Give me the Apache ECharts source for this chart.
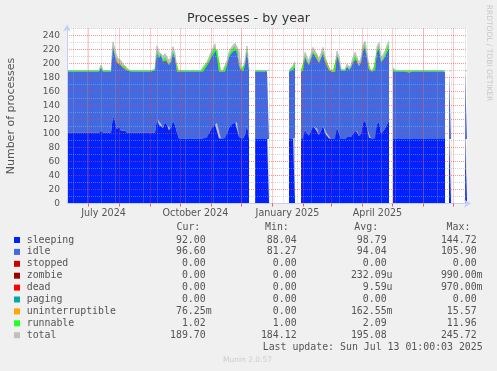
<!DOCTYPE html>
<html><head><meta charset="utf-8">
<script src="https://cdn.jsdelivr.net/npm/echarts@6/dist/echarts.min.js"></script>
<style>html,body{margin:0;padding:0;background:#f0f0f0}#c{width:497px;height:371px}</style>
</head><body><div id="c"></div>
<script>
// ---- time frame (one sample every 2 days) ----
const startDate = '2024-06-09T12:00:00Z';
const endDate = '2025-07-14T12:00:00Z';
const stepDays = 2;

// ---- series values (201 samples, null = no data) ----
const sleeping = [
101,101,101,101,101,101,101,101,101,101,
101,101,101,101,101,101,101,104,101,101,
101,101,101,125,118,106,110,104,102,104,
101,101,101,101,101,101,101,101,101,101,
101,101,101,101,101,121,112,114,108,116,
112,104,106,118,112,101,93,93,93,93,
93,93,93,93,93,93,93,93,93,96,
94,100,106,110,113,115,93,93,93,93,
100,108,113,114,116,116,95,93,93,98,
112,93,null,null,92,92,92,92,92,92,
92,92,null,null,null,null,null,null,null,null,
null,92,92,93,94,null,null,92,92,105,
100,97,104,110,107,107,98,104,111,100,
100,93,92,92,92,108,100,92,92,92,
95,93,95,100,106,104,96,100,115,119,
108,94,92,92,93,113,117,100,103,107,
113,118,null,92,92,92,92,92,92,92,
92,92,92,92,92,92,92,92,92,92,
92,92,92,92,92,92,92,92,92,92,
null,92,92,null,null,null,null,null,null,92,
92];
const idle = [
87.5,87.5,87.5,87.5,87.5,87.5,87.5,87.5,87.5,87.5,
87.5,87.5,87.5,87.5,87.5,87.5,87.5,90,87.5,87.5,
87.5,87.5,87.5,98,93,95,90,93,92,92,
89.5,87.5,87.5,87.5,87.5,87.5,87.5,87.5,87.5,87.5,
87.5,87.5,87.5,87.5,89.5,95,96,98,95,91,
93,94,96,97,95,87.5,95.5,95.5,95.5,95.5,
95.5,95.5,95.5,95.5,95.5,95.5,95.5,95.5,95.5,99,
103,102,102,103,104,105,95.5,95.5,95.5,95.5,
98,101,101,103,102,104,102,97.5,95.5,100,
105,95.5,null,null,96.5,95,96.5,96.5,96.5,96.5,
96.5,96.5,null,null,null,null,null,null,null,null,
null,96.5,96.5,98,101,null,null,96.5,98,104,
102,101,103,105,104,105,103,103,104,103,
101,97.5,96.5,95.5,95.5,103,103,97.5,96.5,97.5,
100,98,99,102,103,103,100,102,103,104,
99,97,96.5,96.5,97.5,103,104,102,102,103,
103,104,null,97,96.5,96.5,96.5,96.5,96.5,96.5,
96.5,95,96.5,96.5,96.5,96.5,96.5,96.5,96.5,96.5,
96.5,96.5,96.5,96.5,96.5,96.5,96.5,96.5,96.5,96.5,
null,96.6,96.6,null,null,null,null,null,null,96.6,
96.6];
const uninterruptible = [
0,0,0,0,0,0,0,0,0,0,
0,0,0,0,0,0,0,0,0,0,
0,0,0,0,0,0,0,0,0,0,
0,0,0,0,0,0,0,0,0,0,
0,0,0,0,0,0,0,0,0,0,
0,0,0,0,0,0,0,0,0,0,
0,0,0,0,0,0,0,0,0,0,
0,0,0,0,0,0,0,0,0,0,
0,0,0,0,0,0,0,0,0,0,
0,0,null,null,0,1.5,0,0,0,0,
0,0,null,null,null,null,null,null,null,null,
null,0,0,0,0,null,null,0,0,0,
0,0,0,0,0,0,0,0,0,0,
0,0,0,1,2,0,0,0,0,0,
0,0,0,0,0,0,0,0,0,0,
0,0,0,0,0,0,0,0,0,0,
0,0,null,0,0,0,0,0,0,0,
0,1.5,0,0,0,0,0,0,0,0,
0,0,0,0,0,0,0,0,0,0,
null,0,0,null,null,null,null,null,null,0,
0.08];
const runnable = [
1.5,1.5,1.5,1.5,1.5,1.5,1.5,1.5,1.5,1.5,
1.5,1.5,1.5,1.5,1.5,1.5,1.5,2,1.5,1.5,
1.5,1.5,1.5,2,2,2.5,2,2,1.5,1.5,
1.5,1.5,1.5,1.5,1.5,1.5,1.5,1.5,1.5,1.5,
1.5,1.5,1.5,1.5,1.5,3,2.5,2,2,2,
2,1.5,2,3,2,1.5,1.5,1.5,1.5,1.5,
1.5,1.5,1.5,1.5,1.5,1.5,1.5,1.5,1.5,2,
2,3,4,5,7,6,1.5,1.5,1.5,1.5,
2,3,4,5,7,6,3,1.5,1.5,2,
4,1.5,null,null,1.5,1.5,1.5,1.5,1.5,1.5,
1.5,1.5,null,null,null,null,null,null,null,null,
null,1.5,1.5,4,5,null,null,1.5,2,2,
2,1.5,2,3,2,2,1.5,2,3,1.5,
2,1.5,1.5,1.5,1.5,2,1.5,1.5,1.5,1.5,
1.5,1.5,1.5,2,2,2,1.5,1.5,3,4,
2,1.5,1.5,1.5,1.5,3,4,2,2,4,
6,6,null,3,1.5,1.5,1.5,1.5,1.5,1.5,
1.5,1.5,1.5,1.5,1.5,1.5,1.5,1.5,1.5,1.5,
1.5,1.5,1.5,1.5,1.5,1.5,1.5,1.5,1.5,1.5,
null,1,1,null,null,null,null,null,null,1,
1.02];
const total = [
190,190,190,190,190,190,190,190,190,190,
190,190,190,190,190,190,190,198,190,190,
190,190,190,231,219,209,207,204,199,201,
194,190,190,190,190,190,190,190,190,190,
190,190,190,190,193,225,217,219,210,214,
212,204,209,224,214,190,190,190,190,190,
190,190,190,190,190,190,190,190,190,199,
202,209,216,222,228,230,190,190,190,190,
204,216,222,226,229,230,218,193,190,204,
225,190,null,null,190,190,190,190,190,190,
190,190,null,null,null,null,null,null,null,null,
null,190,190,197,203,null,null,190,194,216,
209,204,214,223,218,219,207,214,223,209,
208,193,190,190,191,218,209,192,190,191,
199,195,198,209,216,214,201,208,226,232,
214,195,190,190,193,224,230,209,212,218,
226,232,null,194,190,190,190,190,190,190,
190,190,190,190,190,190,190,190,190,190,
190,190,190,190,190,190,190,190,190,190,
null,189.7,189.7,null,null,null,null,null,null,189.7,
189.7];

// ---- axis ticks / grid positions ----
const monthStarts = ['2024-07-01','2024-08-01','2024-09-01','2024-10-01','2024-11-01','2024-12-01',
  '2025-01-01','2025-02-01','2025-03-01','2025-04-01','2025-05-01','2025-06-01','2025-07-01'];
const weekLines = ['2024-06-16','2024-06-30','2024-07-14','2024-07-28','2024-08-11','2024-08-25','2024-09-08',
  '2024-09-22','2024-10-06','2024-10-20','2024-11-03','2024-11-17','2024-12-01','2024-12-15','2024-12-29',
  '2025-01-12','2025-01-26','2025-02-09','2025-02-23','2025-03-09','2025-03-23','2025-04-06','2025-04-20',
  '2025-05-04','2025-05-18','2025-06-01','2025-06-15','2025-06-29','2025-07-13'];
const xLabelDates = ['2024-07-16','2024-10-16','2025-01-16','2025-04-16'];
const xLabelTexts = ['July 2024','October 2024','January 2025','April 2025'];
const yLabelValues = [0,20,40,60,80,100,120,140,160,180,200,220,240];
const yMajorGrid = [20,40,60,80,100,120,140,160,180,200,220,240];
const yMinorGrid = [10,30,50,70,90,110,130,150,170,190,210,230,250];

// ---- legend table ----
const legendNames = ['sleeping','idle','stopped','zombie','dead','paging','uninterruptible','runnable','total'];
const curVals = ['92.00','96.60','0.00','0.00','0.00','0.00','76.25m','1.02','189.70'];
const minVals = ['88.04','81.27','0.00','0.00','0.00','0.00','0.00','1.00','184.12'];
const avgVals = ['98.79','94.04','0.00','232.09u','9.59u','0.00','162.55m','2.09','195.08'];
const maxVals = ['144.72','105.90','0.00','990.00m','970.00m','0.00','15.57','11.96','245.72'];
const lastUpdate = 'Last update: Sun Jul 13 01:00:03 2025';

// ---- styles ----
const colors = ['#0022ff','#4169e1','#cc0000','#990000','#ff0000','#00aaaa','#ffa500','#22ff22','#c0c0c0'];
const SANS = '"DejaVu Sans", sans-serif';
const MONO = '"DejaVu Sans Mono", monospace';
const TXT = '#555';
const MGRID = 'rgba(255,60,60,0.55)';
const GRID = 'rgba(175,175,175,0.5)';
const AXIS = '#c8ccf8';

const t0 = Date.parse(startDate), t1 = Date.parse(endDate), DAY = 86400000;
const toT = s => Date.parse(s + 'T00:00:00Z');
const pairs = arr => arr.map((v, i) => [t0 + i * stepDays * DAY, v]);
const labelTimes = xLabelDates.map(toT);

function areaSeries(name, data, color) {
  return { name, type: 'line', stack: 'p', data: pairs(data), symbol: 'none', showSymbol: false,
    connectNulls: false, z: 2, lineStyle: { width: 0, color }, itemStyle: { color },
    areaStyle: { color, opacity: 1 }, silent: true, animation: false };
}
const dot = color => ({ color, type: [1, 1], width: 1 });

const series = [
  { name: 'total', type: 'line', data: pairs(total), symbol: 'none', connectNulls: false, z: 1,
    lineStyle: { width: 1, color: colors[8] }, areaStyle: { color: colors[8], opacity: 1 }, silent: true, animation: false },
  areaSeries('sleeping', sleeping, colors[0]),
  areaSeries('idle', idle, colors[1]),
  areaSeries('uninterruptible', uninterruptible, colors[6]),
  areaSeries('runnable', runnable, colors[7]),
  { type: 'line', data: [[t0, null]], z: 6, silent: true, animation: false, symbol: 'none',
    markLine: { symbol: 'none', silent: true, animation: false, label: { show: false },
      data: [].concat(
        yMinorGrid.map(v => ({ yAxis: v, lineStyle: dot(GRID) })),
        weekLines.map(d => ({ xAxis: toT(d), lineStyle: dot(GRID) })),
        yMajorGrid.map(v => ({ yAxis: v, lineStyle: dot(MGRID) })),
        monthStarts.map(d => ({ xAxis: toT(d), lineStyle: dot(MGRID) }))) } }
];

// legend table graphics
const pad = s => { const m = s.match(/^([\d.]+)(\D?)$/); return m[1].padStart(6) + (m[2] || ' '); };
const g = [];
const rowY0 = 240, rowDY = 11.9;
const mono = (text, x, y, align) => ({ type: 'text', x, y, silent: true,
  style: { text, font: '9.9px ' + MONO, fill: TXT, align: align || 'left', verticalAlign: 'middle' } });
g.push(mono('Cur:', 176.5, 227.5), mono('Min:', 265, 227.5), mono('Avg:', 354.3, 227.5), mono('Max:', 446.6, 227.5));
legendNames.forEach((n, i) => {
  const y = rowY0 + i * rowDY;
  g.push({ type: 'rect', silent: true, shape: { x: 14, y: y - 3, width: 6, height: 6 }, style: { fill: colors[i] } });
  g.push(mono(n, 26.7, y));
  g.push(mono(pad(curVals[i]), 170, y));
  g.push(mono(pad(minVals[i]), 260.9, y));
  g.push(mono(pad(avgVals[i]), 350.9, y));
  g.push(mono(pad(maxVals[i]), 440.9, y));
});
g.push(mono(lastUpdate, 482.7, 347.5, 'right'));
g.push({ type: 'text', x: 223, y: 360, silent: true,
  style: { text: 'Munin 2.0.57', font: '7.5px ' + SANS, fill: '#cccccc', verticalAlign: 'middle' } });
g.push({ type: 'text', x: 488.5, y: 53, rotation: -Math.PI / 2, silent: true,
  style: { text: 'RRDTOOL / TOBI OETIKER', font: '7.5px ' + SANS, fill: '#c8c8c8', align: 'center', verticalAlign: 'middle' } });

const chart = echarts.init(document.getElementById('c'), null, { renderer: 'canvas' });
chart.setOption({
  animation: false,
  backgroundColor: '#f0f0f0',
  title: { text: 'Processes - by year', left: 'center', top: 12, padding: 0,
    textStyle: { fontFamily: SANS, fontSize: 12.7, fontWeight: 'normal', color: '#333' } },
  grid: { left: 67, right: 30, top: 28.5, bottom: 167.5, show: true, backgroundColor: '#ffffff', borderWidth: 0,
    containLabel: false, outerBoundsMode: 'none' },
  xAxis: [
    { type: 'time', min: t0, max: t1, position: 'bottom', z: 5,
      axisLine: { show: false }, axisTick: { show: false }, axisLabel: { show: false }, splitLine: { show: false } },
    { type: 'value', min: t0, max: t1, position: 'bottom', z: 5,
      axisLine: { show: true, lineStyle: { color: AXIS, width: 1 }, symbol: ['none', 'arrow'], symbolSize: [6, 7], symbolOffset: [0, 4] },
      axisTick: { show: true, customValues: monthStarts.map(toT), length: 3, lineStyle: { color: 'rgba(220,0,0,0.6)' } },
      splitLine: { show: false },
      axisLabel: { customValues: labelTimes, margin: 5, fontFamily: SANS, fontSize: 9.6, color: TXT,
        formatter: v => { const i = labelTimes.indexOf(v); return i >= 0 ? xLabelTexts[i] : ''; } } }
  ],
  yAxis: { type: 'value', min: 0, max: 250, interval: 10, z: 5,
    name: 'Number of processes', nameLocation: 'middle', nameGap: 50, nameRotate: 90,
    nameTextStyle: { fontFamily: SANS, fontSize: 11, color: TXT },
    axisLine: { show: true, lineStyle: { color: AXIS, width: 1 }, symbol: ['none', 'arrow'], symbolSize: [6, 7], symbolOffset: [0, 4] },
    axisTick: { show: false },
    splitLine: { show: false },
    axisLabel: { margin: 7, fontFamily: SANS, fontSize: 9, color: TXT,
      formatter: v => yLabelValues.indexOf(v) >= 0 ? String(v) : '' } },
  series,
  graphic: g
});
</script></body></html>
